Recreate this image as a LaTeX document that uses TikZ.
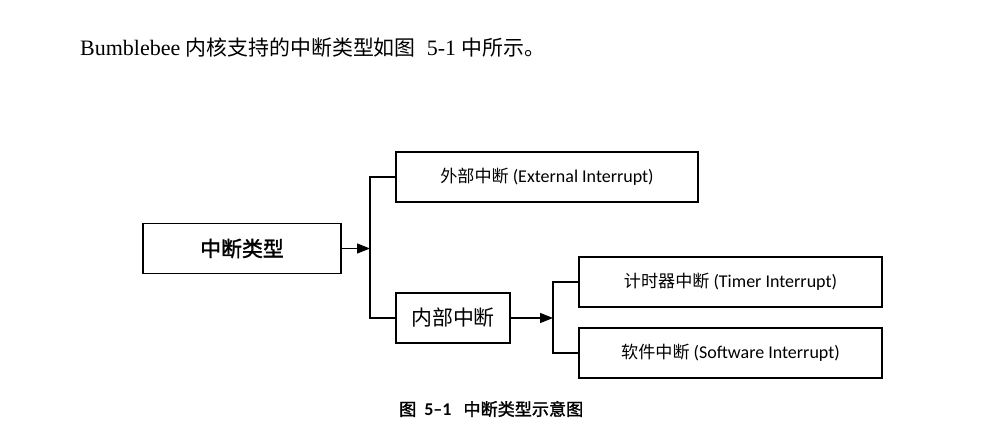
\documentclass[tikz,border=0pt]{standalone}
\usepackage{fontspec}
\setmainfont{Carlito}
\newfontfamily\cjk[Scale=0.95,AutoFakeBold=1.6]{Noto Sans CJK SC}
\newfontfamily\bodyserif{Liberation Serif}
\newcommand\zh[1]{{\cjk #1}}
\usetikzlibrary{arrows.meta,positioning}

\begin{document}
\begin{tikzpicture}[x=1pt,y=-1pt,
        box/.style={draw, line width=1.1pt, minimum height=50pt, inner sep=0pt,
            font=\fontsize{18}{21}\selectfont},
        bigtext/.style={font=\fontsize{22}{26}\selectfont},
        boldtext/.style={font=\fontsize{22}{26}\selectfont\bfseries},
        link/.style={line width=1.3pt},
        arr/.style={link, -{Triangle[length=13pt,width=10pt]}},
    ]
        \useasboundingbox (0,0) rectangle (1000,439);

        % Intro line
        \node[anchor=base west, inner sep=0pt, bigtext] (intro) at (80,55)
            {\bodyserif Bumblebee \zh{内核支持的中断类型如图}\ \ 5-1 \zh{中所示。}};

        % Boxes
        \node[box, minimum width=198pt, boldtext] (kind) at (242,248.5) {\zh{中断类型}};
        \node[box, minimum width=302pt] (ext) at (547,177) {\zh{外部中断} (External Interrupt)};
        \node[box, minimum width=114pt, bigtext] (int) at (453,318) {\zh{内部中断}};
        \node[box, minimum width=303pt] (timer) at (730.5,282) {\zh{计时器中断} (Timer Interrupt)};
        \node[box, minimum width=303pt] (soft) at (730.5,353) {\zh{软件中断} (Software Interrupt)};

        % Joints
        \coordinate (j1) at (370,248.5);
        \coordinate (j2) at (553,318);

        % Connectors
        \draw[arr] (kind.east) -- (j1);
        \draw[link] (ext.west) -| (j1) |- (int.west);
        \draw[arr] (int.east) -- (j2);
        \draw[link] (timer.west) -| (j2) |- (soft.west);

        % Caption
        \node[anchor=west, inner sep=0pt, font=\fontsize{18}{21}\selectfont\bfseries] (cap) at (399,409)
            {\zh{图}\hspace{8pt}5--1\hspace{12pt}\zh{中断类型示意图}};
\end{tikzpicture}
\end{document}
